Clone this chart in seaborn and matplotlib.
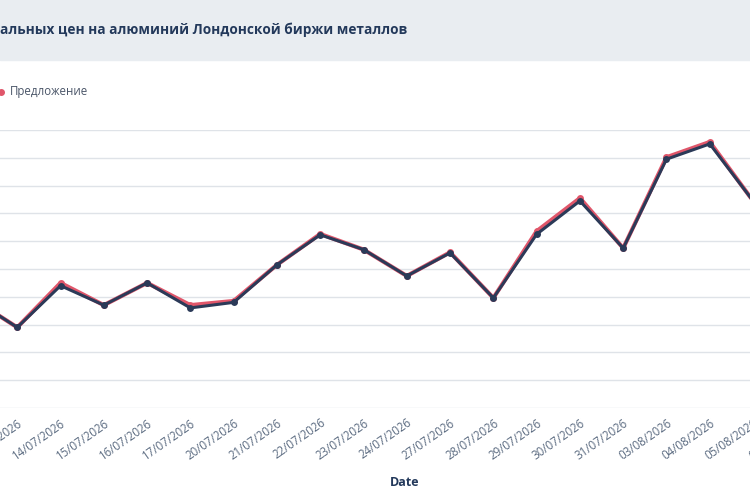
import numpy as np
import pandas as pd
import matplotlib
matplotlib.use("Agg")
import matplotlib.pyplot as plt
import seaborn as sns

dates = ["10/07/2026","13/07/2026","14/07/2026","15/07/2026","16/07/2026","17/07/2026",
         "20/07/2026","21/07/2026","22/07/2026","23/07/2026","24/07/2026","27/07/2026",
         "28/07/2026","29/07/2026","30/07/2026","31/07/2026","03/08/2026","04/08/2026",
         "05/08/2026","06/08/2026"]
demand = [3.9, 2.9, 4.4, 3.7, 4.5, 3.6, 3.8, 5.15, 6.23, 5.7, 4.75, 5.58, 3.96,
          6.25, 7.45, 5.75, 8.95, 9.5, 7.45, np.nan]
supply = [3.9, 2.9, 4.5, 3.7, 4.5, 3.7, 3.85, 5.15, 6.26, 5.7, 4.75, 5.6, 3.96,
          6.36, 7.55, 5.75, 9.02, 9.57, 7.45, np.nan]

sns.set_style("white")
plt.rcParams['font.family'] = ['Open Sans', 'DejaVu Sans']

fig = plt.figure(figsize=(7.5, 5), dpi=100)
fig.patches.append(matplotlib.patches.Rectangle((0, 1 - 60/500), 1, 60/500,
                   transform=fig.transFigure, color="#e9edf1", zorder=0))
fig.text(0.0, 1 - 30/500, "альных цен на алюминий Лондонской биржи металлов",
         fontsize=9.8, fontweight="bold", color="#23395b", va="center", ha="left")
fig.text(10/750, 1 - 92/500, "Предложение", fontsize=8.3, color="#4a5568", va="center")
fig.lines.append(matplotlib.lines.Line2D([1/750], [1 - 92/500], marker="o", ms=4,
                 color="#e0566a", transform=fig.transFigure))

ax = fig.add_axes([-60/750, 92/500, 865/750, 278/500])
idx = np.arange(len(dates))
df = pd.DataFrame({"i": np.concatenate([idx, idx]),
                   "v": supply + demand,
                   "s": ["Предложение"] * len(dates) + ["Спрос"] * len(dates)})
sns.lineplot(data=df, x="i", y="v", hue="s", palette={"Предложение": "#e0566a", "Спрос": "#2b3a58"},
             marker="o", markersize=5, markeredgewidth=0, linewidth=2.4, ax=ax, legend=False)
for ln, lw in zip(ax.lines, [3.0, 2.2]):
    ln.set_linewidth(lw)

ax.set_xlim(-0.785, 19.2)
ax.set_ylim(0, 10)
ax.set_yticks(np.arange(0, 11, 1))
ax.set_yticklabels([])
ax.tick_params(axis="y", length=0)
ax.grid(axis="y", color="#dfe3e8", linewidth=1)
ax.set_xticks(idx)
ax.set_xticklabels(dates, rotation=35, ha="right", rotation_mode="anchor",
                   fontsize=8.3, color="#5a6a80")
ax.tick_params(axis="x", length=0, pad=6)
for s in ax.spines.values():
    s.set_visible(False)
ax.set_xlabel("")
ax.set_ylabel("")
fig.text(405/750, 1 - 483/500, "Date", fontsize=9, fontweight="bold", color="#23395b",
         ha="center", va="center")
fig.savefig("out.png", dpi=100)
